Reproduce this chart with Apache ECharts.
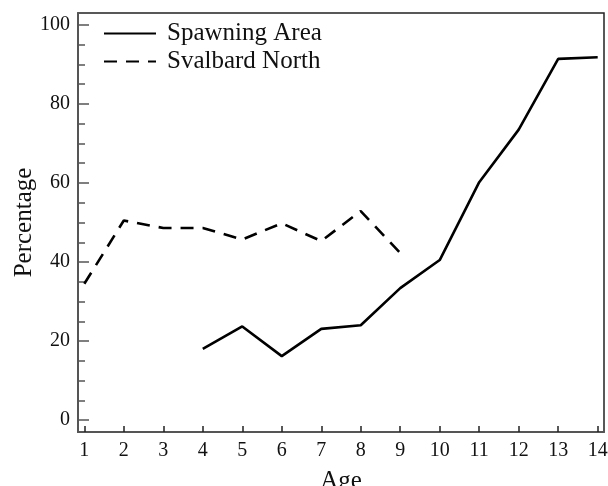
<!DOCTYPE html>
<html>
<head>
<meta charset="utf-8">
<style>
  html, body { margin: 0; padding: 0; background: #fff; }
  #chart { width: 608px; height: 486px; }
</style>
<script src="https://cdn.jsdelivr.net/npm/echarts@6/dist/echarts.min.js"></script>
</head>
<body>
<div id="chart"></div>
<script>
// Percentage by age for the two areas
const spawningAges = [4, 5, 6, 7, 8, 9, 10, 11, 12, 13, 14];
const spawningPct = [18.0, 23.7, 16.2, 23.1, 24.0, 33.4, 40.5, 60.2, 73.5, 91.4, 91.8];
const svalbardAges = [1, 2, 3, 4, 5, 6, 7, 8, 9];
const svalbardPct = [34.5, 50.5, 48.6, 48.6, 45.7, 49.8, 45.3, 52.9, 42.3];

// Tick positions
const xTicks = [1, 2, 3, 4, 5, 6, 7, 8, 9, 10, 11, 12, 13, 14];
const yMajorTicks = [0, 20, 40, 60, 80, 100];
const yMinorTicks = [5, 10, 15, 25, 30, 35, 45, 50, 55, 65, 70, 75, 85, 90, 95];

const FONT = '"Liberation Serif", "DejaVu Serif", serif';
const AXIS_COLOR = '#555';

const pairs = (xs, ys) => xs.map((x, i) => [x, ys[i]]);

const chart = echarts.init(document.getElementById('chart'), null, { renderer: 'canvas' });

chart.setOption({
  animation: false,
  backgroundColor: '#fff',
  grid: {
    left: 78, right: 4, top: 13, bottom: 54,
    outerBoundsMode: 'none',
    containLabel: false,
    show: true, borderColor: '#222', borderWidth: 1.5
  },
  legend: {
    orient: 'vertical',
    left: 103, top: 21,
    padding: 0,
    itemWidth: 52,
    itemHeight: 14,
    itemGap: 3,
    itemStyle: { color: 'rgba(0,0,0,0)', borderWidth: 0 },
    textStyle: { fontFamily: FONT, fontSize: 25, color: '#111', padding: [0, 0, 0, 6] },
    data: ['Spawning Area', 'Svalbard North']
  },
  xAxis: {
    type: 'value',
    min: 0.84, max: 14.16,
    name: 'Age',
    nameLocation: 'middle',
    nameGap: 37,
    nameMoveOverlap: false,
    nameTextStyle: { fontFamily: FONT, fontSize: 25, color: '#111' },
    axisLine: { show: true, onZero: false, lineStyle: { color: AXIS_COLOR, width: 2 } },
    axisTick: { show: true, inside: true, length: 6, customValues: xTicks,
                lineStyle: { color: '#222', width: 1.5 } },
    axisLabel: { customValues: xTicks, margin: 9, fontFamily: FONT, fontSize: 20, color: '#111' },
    splitLine: { show: false }
  },
  yAxis: [
    {
      type: 'value',
      position: 'left',
      min: -3, max: 103,
      name: 'Percentage',
      nameLocation: 'middle',
      nameGap: 41,
      nameMoveOverlap: false,
      nameRotate: 90,
      nameTextStyle: { fontFamily: FONT, fontSize: 25, color: '#111' },
      axisLine: { show: true, onZero: false, lineStyle: { color: AXIS_COLOR, width: 2 } },
      axisTick: { show: true, inside: true, length: 11, customValues: yMajorTicks,
                  lineStyle: { color: AXIS_COLOR, width: 1.5 } },
      axisLabel: { customValues: yMajorTicks, margin: 8, fontFamily: FONT, fontSize: 20, color: '#111' },
      splitLine: { show: false }
    },
    {
      // minor ticks only
      type: 'value',
      position: 'left',
      min: -3, max: 103,
      axisLine: { show: false, onZero: false },
      axisTick: { show: true, inside: true, length: 7, customValues: yMinorTicks,
                  lineStyle: { color: AXIS_COLOR, width: 1.5 } },
      axisLabel: { show: false },
      splitLine: { show: false }
    }
  ],
  series: [
    {
      name: 'Spawning Area',
      type: 'line',
      yAxisIndex: 0,
      symbol: 'none',
      data: pairs(spawningAges, spawningPct),
      lineStyle: { color: '#000', width: 2.6, type: 'solid' },
      itemStyle: { color: '#000' }
    },
    {
      name: 'Svalbard North',
      type: 'line',
      yAxisIndex: 0,
      symbol: 'none',
      data: pairs(svalbardAges, svalbardPct),
      lineStyle: { color: '#000', width: 2.6, type: [13, 9] },
      itemStyle: { color: '#000' }
    }
  ]
});
</script>
</body>
</html>
